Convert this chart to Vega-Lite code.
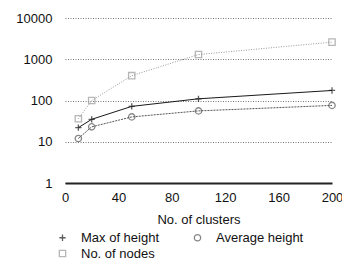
{
  "$schema": "https://vega.github.io/schema/vega-lite/v6.json",
  "width": 267,
  "height": 165,
  "autosize": {"type": "none"},
  "padding": {"left": 65, "top": 18, "right": 10, "bottom": 81},
  "config": {
    "view": {"stroke": null},
    "font": "Liberation Sans",
    "axis": {"labelFont": "Liberation Sans", "labelFontSize": 13, "labelColor": "#111", "titleFont": "Liberation Sans", "titleFontWeight": "normal", "titleFontSize": 13, "titleColor": "#111"},
    "legend": {"labelFont": "Liberation Sans", "labelFontSize": 13, "labelColor": "#111"}
  },
  "data": {
    "values": [
      {"clusters": 10, "series": "Max of height", "value": 22},
      {"clusters": 20, "series": "Max of height", "value": 35},
      {"clusters": 50, "series": "Max of height", "value": 72},
      {"clusters": 100, "series": "Max of height", "value": 110},
      {"clusters": 200, "series": "Max of height", "value": 175},
      {"clusters": 10, "series": "Average height", "value": 12},
      {"clusters": 20, "series": "Average height", "value": 23},
      {"clusters": 50, "series": "Average height", "value": 40},
      {"clusters": 100, "series": "Average height", "value": 56},
      {"clusters": 200, "series": "Average height", "value": 76},
      {"clusters": 10, "series": "No. of nodes", "value": 36},
      {"clusters": 20, "series": "No. of nodes", "value": 100},
      {"clusters": 50, "series": "No. of nodes", "value": 400},
      {"clusters": 100, "series": "No. of nodes", "value": 1300},
      {"clusters": 200, "series": "No. of nodes", "value": 2600}
    ]
  },
  "encoding": {
    "x": {"field": "clusters", "type": "quantitative", "scale": {"domain": [0, 200], "nice": false},
      "axis": {"values": [0, 40, 80, 120, 160, 200], "grid": false, "ticks": false, "domainColor": "#222", "domainWidth": 2, "labelPadding": 8, "title": "No. of clusters", "titlePadding": 9, "labelFlush": false}},
    "y": {"field": "value", "type": "quantitative", "scale": {"type": "log", "domain": [1, 10000], "nice": false},
      "axis": {"values": [1, 10, 100, 1000, 10000], "format": "d", "domain": false, "ticks": false, "grid": true, "gridDash": [1, 1.5], "gridColor": "#777", "labelPadding": 13, "title": null}},
    "color": {"field": "series", "type": "nominal",
      "scale": {"domain": ["Max of height", "Average height", "No. of nodes"], "range": ["#1a1a1a", "#555555", "#999999"]},
      "legend": {"title": null, "orient": "none", "legendX": -9, "legendY": 213, "padding": 0, "columns": 2, "columnPadding": 31, "rowPadding": 2, "symbolSize": 40, "symbolStrokeWidth": 1.3, "labelOffset": 12, "values": ["Max of height", "No. of nodes", "Average height"]}}
  },
  "layer": [
    {
      "transform": [{"filter": "datum.series === 'Max of height'"}],
      "mark": {"type": "line", "strokeWidth": 1}
    },
    {
      "transform": [{"filter": "datum.series === 'Average height'"}],
      "mark": {"type": "line", "strokeWidth": 1, "strokeDash": [2, 1]}
    },
    {
      "transform": [{"filter": "datum.series === 'No. of nodes'"}],
      "mark": {"type": "line", "strokeWidth": 1, "strokeDash": [1, 1.5]}
    },
    {
      "mark": {"type": "point", "filled": false, "size": 40, "strokeWidth": 1.3},
      "encoding": {
        "shape": {"field": "series", "type": "nominal",
          "scale": {"domain": ["Max of height", "Average height", "No. of nodes"], "range": ["M-1,0L1,0M0,-1L0,1", "circle", "square"]},
          "legend": {"title": null, "orient": "none", "legendX": -9, "legendY": 213, "padding": 0, "columns": 2, "columnPadding": 31, "rowPadding": 2, "symbolSize": 40, "symbolStrokeWidth": 1.3, "labelOffset": 12, "values": ["Max of height", "No. of nodes", "Average height"]}}
      }
    }
  ]
}
